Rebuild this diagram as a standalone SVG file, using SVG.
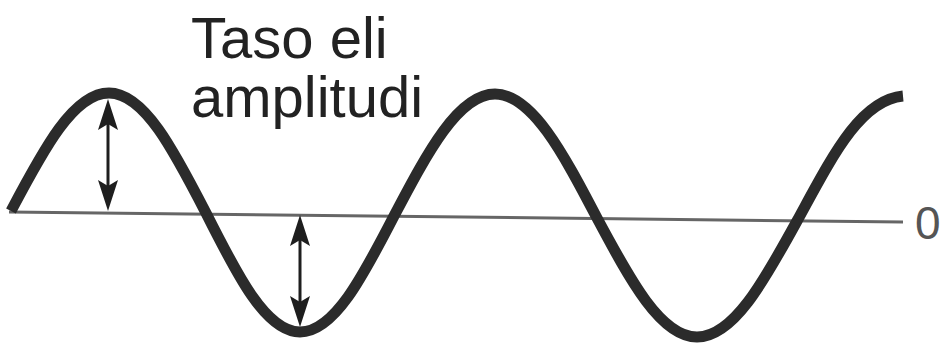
<svg xmlns="http://www.w3.org/2000/svg" width="943" height="345" viewBox="0 0 943 345">
  <style>
    .wave { fill: none; stroke: #2b2b2b; stroke-width: 11; stroke-linecap: butt; stroke-linejoin: round; }
    .axis { stroke: #666666; stroke-width: 3; fill: none; }
    .shaft { stroke: #1e1e1e; stroke-width: 3; }
    .head { fill: #1e1e1e; }
    .label { font-family: "Liberation Sans", Arial, sans-serif; font-size: 58px; fill: #222222; }
    .zero { font-family: "Liberation Sans", Arial, sans-serif; font-size: 46px; fill: #555555; }
  </style>
  <defs>
    <path id="head" d="M0,0 L10,31 L0,25 L-10,31 Z"/>
  </defs>
  <rect width="943" height="345" fill="#ffffff"/>
  <g id="axis">
    <line class="axis" x1="9" y1="212" x2="903" y2="222"/>
    <text class="zero" x="915" y="239">0</text>
  </g>
  <g id="wave">
    <path class="wave" d="M11,211
      C43.7,149 73.6,93 109,93
      C144,93 173.6,150 206,213
      C237.4,275.5 266,332 300,332
      C334,332 362.6,277 394,216
      C427.7,152 458.5,94 495,94
      C531.8,94 563,153 597,218
      C630.4,280.5 660.9,337 697,337
      C733.1,337 763.6,282 797,221
      C832,157 860,100 903,96"/>
  </g>
  <g id="label">
    <text class="label" x="191" y="58">Taso eli</text>
    <text class="label" x="191" y="117">amplitudi</text>
  </g>
  <g id="connectors">
    <g id="arrow1">
      <line class="shaft" x1="108" y1="118" x2="108" y2="192"/>
      <use href="#head" class="head" transform="translate(108,99)"/>
      <use href="#head" class="head" transform="translate(108,211) rotate(180)"/>
    </g>
    <g id="arrow2">
      <line class="shaft" x1="300" y1="234" x2="300" y2="308"/>
      <use href="#head" class="head" transform="translate(300,215)"/>
      <use href="#head" class="head" transform="translate(300,327) rotate(180)"/>
    </g>
  </g>
</svg>
